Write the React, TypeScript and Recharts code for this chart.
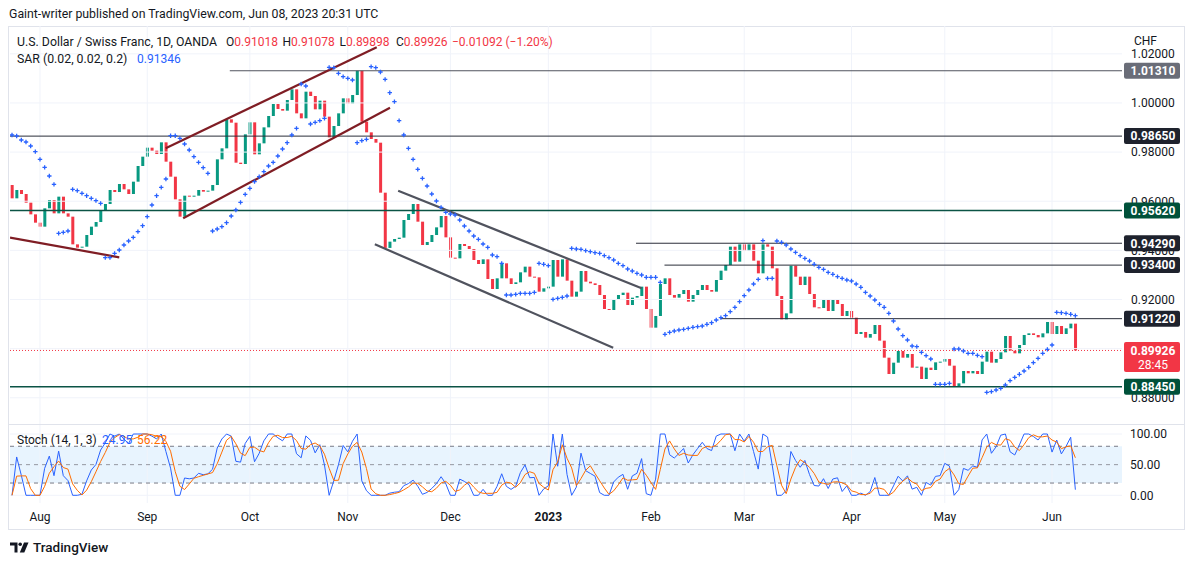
import React from 'react';
import { ComposedChart, Bar, Line, XAxis, YAxis, ReferenceLine, ReferenceArea } from 'recharts';

const FONT = 'Roboto, "Noto Sans", "DejaVu Sans", sans-serif';
const GREEN = '#089981';
const RED = '#f23645';
const BLUE = '#2962ff';
const ORANGE = '#ff6d00';
const TEXT = '#131722';

// Daily bars, 22 Jul 2022 .. 08 Jun 2023 (index = bar position)
const opens = [
  0.96660, 0.96118, 0.96457, 0.96294, 0.95941, 0.95466, 0.95127, 0.94965, 0.95711, 0.96050,
  0.95507, 0.96186, 0.95507, 0.95372, 0.94245, 0.94110, 0.94150, 0.94625, 0.94965, 0.95154,
  0.95643, 0.95887, 0.96457, 0.96375, 0.96701, 0.96484, 0.96294, 0.96796, 0.97434, 0.97814,
  0.98180, 0.98058, 0.97922, 0.98397, 0.97610, 0.96999, 0.96077, 0.95372, 0.96226, 0.96186,
  0.96226, 0.96457, 0.96389, 0.96430, 0.96660, 0.97705, 0.98153, 0.99333, 0.99197, 0.97569,
  0.97515, 0.98723, 0.99211, 0.97909, 0.98356, 0.99007, 0.99469, 0.99957, 0.99754, 0.99686,
  1.00120, 1.00554, 0.99577, 0.99374, 1.00459, 1.00283, 0.99740, 1.00093, 0.99442, 0.98600,
  0.99062, 0.99577, 1.00188, 0.99984, 1.00323, 1.01310, 0.99238, 0.98804, 0.98533, 0.98383,
  0.96348, 0.94100, 0.94354, 0.94463, 0.94517, 0.95236, 0.95480, 0.95887, 0.95168, 0.94218,
  0.94341, 0.94625, 0.94937, 0.95399, 0.94530, 0.93703, 0.93676, 0.94259, 0.94178, 0.94056,
  0.93608, 0.93445, 0.93635, 0.92835, 0.92428, 0.92862, 0.93472, 0.92862, 0.92631, 0.92699,
  0.93106, 0.93337, 0.92930, 0.92902, 0.92319, 0.92455, 0.92523, 0.93608, 0.92930, 0.93635,
  0.92767, 0.92116, 0.92319, 0.93160, 0.92726, 0.92658, 0.92590, 0.92183, 0.91614, 0.91573,
  0.92021, 0.92183, 0.92278, 0.91776, 0.92075, 0.92143, 0.92523, 0.91614, 0.90854, 0.91329,
  0.92631, 0.92862, 0.92183, 0.92075, 0.92224, 0.92387, 0.91912, 0.92183, 0.92387, 0.92590,
  0.92387, 0.92319, 0.92794, 0.93174, 0.93405, 0.94151, 0.93540, 0.94246, 0.93974, 0.94246,
  0.93581, 0.93065, 0.94246, 0.94151, 0.93269, 0.92143, 0.91193, 0.91437, 0.93377, 0.92930,
  0.92590, 0.92930, 0.92224, 0.91682, 0.91654, 0.92021, 0.91532, 0.91980, 0.91817, 0.91329,
  0.91532, 0.91261, 0.90596, 0.90678, 0.90447, 0.90596, 0.90962, 0.90325, 0.89633, 0.88968,
  0.89429, 0.89904, 0.89633, 0.89782, 0.89226, 0.89267, 0.88765, 0.89226, 0.89131, 0.89443,
  0.89470, 0.89579, 0.89307, 0.88453, 0.88588, 0.89090, 0.88995, 0.89090, 0.88968, 0.89470,
  0.89877, 0.89429, 0.89579, 0.89850, 0.90515, 0.89918, 0.89809, 0.90148, 0.90556, 0.90623,
  0.90556, 0.90461, 0.90623, 0.91085, 0.90596, 0.90922, 0.90596, 0.90827, 0.91018,
];

const closes = [
  0.96118, 0.96457, 0.96294, 0.95941, 0.95466, 0.95127, 0.94965, 0.95711, 0.96050, 0.95507,
  0.96186, 0.95507, 0.95372, 0.94245, 0.94110, 0.94150, 0.94625, 0.94965, 0.95154, 0.95643,
  0.95887, 0.96457, 0.96375, 0.96701, 0.96484, 0.96294, 0.96796, 0.97434, 0.97814, 0.98180,
  0.98058, 0.97922, 0.98397, 0.97610, 0.96999, 0.96077, 0.95372, 0.96226, 0.96186, 0.96226,
  0.96457, 0.96389, 0.96430, 0.96660, 0.97705, 0.98153, 0.99333, 0.99197, 0.97569, 0.97515,
  0.98723, 0.99211, 0.97909, 0.98356, 0.99007, 0.99469, 0.99957, 0.99754, 0.99686, 1.00120,
  1.00554, 0.99577, 0.99374, 1.00459, 1.00283, 0.99740, 1.00093, 0.99442, 0.98600, 0.99062,
  0.99577, 1.00188, 0.99984, 1.00323, 1.01310, 0.99238, 0.98804, 0.98533, 0.98383, 0.96348,
  0.94100, 0.94354, 0.94463, 0.94517, 0.95236, 0.95480, 0.95887, 0.95168, 0.94218, 0.94341,
  0.94625, 0.94937, 0.95399, 0.94530, 0.93703, 0.93676, 0.94259, 0.94178, 0.94056, 0.93608,
  0.93445, 0.93635, 0.92835, 0.92428, 0.92862, 0.93472, 0.92862, 0.92631, 0.92699, 0.93106,
  0.93337, 0.92930, 0.92902, 0.92319, 0.92455, 0.92523, 0.93608, 0.92930, 0.93635, 0.92767,
  0.92116, 0.92319, 0.93160, 0.92726, 0.92658, 0.92590, 0.92183, 0.91614, 0.91573, 0.92021,
  0.92183, 0.92278, 0.91776, 0.92075, 0.92143, 0.92523, 0.91614, 0.90854, 0.91329, 0.92631,
  0.92862, 0.92183, 0.92075, 0.92224, 0.92387, 0.91912, 0.92183, 0.92387, 0.92590, 0.92387,
  0.92319, 0.92794, 0.93174, 0.93405, 0.94151, 0.93540, 0.94246, 0.93974, 0.94246, 0.93581,
  0.93065, 0.94246, 0.94151, 0.93269, 0.92143, 0.91193, 0.91437, 0.93377, 0.92930, 0.92590,
  0.92930, 0.92224, 0.91682, 0.91654, 0.92021, 0.91532, 0.91980, 0.91817, 0.91329, 0.91532,
  0.91261, 0.90596, 0.90678, 0.90447, 0.90596, 0.90962, 0.90325, 0.89633, 0.88968, 0.89429,
  0.89904, 0.89633, 0.89782, 0.89226, 0.89267, 0.88765, 0.89226, 0.89131, 0.89443, 0.89470,
  0.89579, 0.89307, 0.88453, 0.88588, 0.89090, 0.88995, 0.89090, 0.88968, 0.89470, 0.89877,
  0.89429, 0.89579, 0.89850, 0.90515, 0.89918, 0.89809, 0.90148, 0.90556, 0.90623, 0.90556,
  0.90461, 0.90623, 0.91085, 0.90596, 0.90922, 0.90596, 0.90827, 0.91018, 0.89926,
];

const sarValues = [
  0.98695, 0.98655, 0.98492, 0.98411, 0.98248, 0.98017, 0.97705, 0.97379, 0.97027, 0.96688,
  0.94693, 0.94734, 0.94788, 0.96484, 0.96430, 0.96321, 0.96226, 0.96118, 0.96023, 0.95914,
  0.93703, 0.93703, 0.93879, 0.94015, 0.94218, 0.94381, 0.94530, 0.94761, 0.95005, 0.95372,
  0.95846, 0.96226, 0.96565, 0.96905, 0.98668, 0.98668, 0.98560, 0.98329, 0.98085, 0.97814,
  0.97583, 0.97366, 0.97135, 0.94788, 0.94870, 0.94965, 0.95127, 0.95399, 0.95643, 0.95955,
  0.96281, 0.96525, 0.96796, 0.96999, 0.97203, 0.97434, 0.97583, 0.97841, 0.98126, 0.98383,
  0.98695, 0.98967, 1.00771, 1.00690, 0.99143, 0.99211, 0.99279, 0.99374, 1.01450, 1.01436,
  1.01205, 1.01070, 1.01002, 1.00934, 0.98383, 0.98465, 0.98519, 1.01477, 1.01436, 1.01260,
  1.00961, 1.00418, 1.00052, 0.99279, 0.98696, 0.98153, 0.97705, 0.97298, 0.96932, 0.96620,
  0.96294, 0.96009, 0.95751, 0.95548, 0.95480, 0.95439, 0.95236, 0.94992, 0.94788, 0.94585,
  0.94449, 0.94259, 0.94123, 0.93811, 0.93744, 0.93472, 0.92183, 0.92183, 0.92210, 0.92251,
  0.92251, 0.92251, 0.92292, 0.93472, 0.93432, 0.93377, 0.92007, 0.92048, 0.92088, 0.92143,
  0.94083, 0.94056, 0.94042, 0.93988, 0.93947, 0.93906, 0.93879, 0.93784, 0.93703, 0.93608,
  0.93472, 0.93377, 0.93242, 0.93160, 0.93065, 0.92997, 0.92903, 0.92903, 0.92903, 0.92699,
  0.90583, 0.90664, 0.90718, 0.90759, 0.90786, 0.90827, 0.90868, 0.90895, 0.90922, 0.90990,
  0.91057, 0.91166, 0.91261, 0.91342, 0.91505, 0.91681, 0.91912, 0.92156, 0.92387, 0.92631,
  0.92821, 0.94395, 0.92862, 0.92862, 0.94381, 0.94327, 0.94219, 0.94056, 0.93920, 0.93784,
  0.93676, 0.93567, 0.93432, 0.93310, 0.93228, 0.93106, 0.93025, 0.92930, 0.92862, 0.92794,
  0.92753, 0.92631, 0.92496, 0.92292, 0.92143, 0.91980, 0.91804, 0.91682, 0.91437, 0.91125,
  0.90800, 0.90528, 0.90352, 0.90108, 0.90081, 0.89850, 0.89714, 0.89579, 0.88548, 0.88548,
  0.88548, 0.88588, 0.89986, 0.89986, 0.89904, 0.89809, 0.89809, 0.89728, 0.89674, 0.88222,
  0.88249, 0.88317, 0.88385, 0.88520, 0.88697, 0.88832, 0.88955, 0.89090, 0.89240, 0.89429,
  0.89606, 0.89809, 0.89972, 0.90148, 0.91478, 0.91464, 0.91437, 0.91397, 0.91346,
];

const monthTicks = [6, 29, 51, 72, 94, 115, 137, 157, 180, 200, 223];
const monthLabels = ['Aug', 'Sep', 'Oct', 'Nov', 'Dec', '2023', 'Feb', 'Mar', 'Apr', 'May', 'Jun'];
const priceTicks = [0.88, 0.9, 0.92, 0.94, 0.96, 0.98, 1.0, 1.02];
const stochTicks = [0, 50, 100];

const levelValues = [1.0131, 0.9865, 0.9562, 0.9429, 0.934, 0.9122, 0.8845];
const levelStarts = [46.7, -0.43, -0.43, 133.8, 139.9, 151.9, -0.43];
const levelLineColors = ['#50535e', '#2a2e39', '#0b5345', '#2a2e39', '#2a2e39', '#2a2e39', '#0b5345'];
const levelTagColors = ['#6a6d78', '#1e222d', '#00513a', '#1e222d', '#1e222d', '#1e222d', '#00513a'];
const lastPrice = 0.89926;

// trend lines: [x1, y1, x2, y2] in (bar index, price)
const brownLines = [
  [-0.43, 0.94516, 23.0, 0.93718],
  [32.95, 0.98154, 78.2, 1.02265],
  [36.7, 0.95305, 81.05, 0.99807],
];
const grayLines = [
  [82.8, 0.96429, 135.0, 0.92456],
  [77.8, 0.94247, 128.9, 0.90038],
];

const X_DOMAIN: [number, number] = [-0.43, 238];
const Y_DOMAIN: [number, number] = [0.86933, 1.03132];
const S_DOMAIN: [number, number] = [-12.56, 114.7];

// Stochastic (14, 1, 3) derived from the candles above
const bodyHigh = closes.map((c, i) => Math.max(c, opens[i]));
const bodyLow = closes.map((c, i) => Math.min(c, opens[i]));
const kValues = closes.map((c, i) => {
  let hh = -Infinity;
  let ll = Infinity;
  for (let j = Math.max(0, i - 13); j <= i; j++) {
    hh = Math.max(hh, bodyHigh[j]);
    ll = Math.min(ll, bodyLow[j]);
  }
  return hh > ll ? ((c - ll) / (hh - ll)) * 100 : 50;
});
const dValues = kValues.map((_, i) => {
  const s = kValues.slice(Math.max(0, i - 2), i + 1);
  return s.reduce((a, b) => a + b, 0) / s.length;
});

const rows = closes.map((c, i) => ({
  i,
  o: opens[i],
  c,
  body: [Math.min(opens[i], c), Math.max(opens[i], c)],
  sar: sarValues[i],
  k: kValues[i],
  d: dValues[i],
}));

const CandleShape = (props: any) => {
  const { x, y, width, height, payload } = props;
  if (x == null || y == null || !payload) return null;
  const cx = x + width / 2;
  const top = height >= 0 ? y : y + height;
  const h = Math.max(1, Math.abs(height));
  const up = payload.c >= payload.o;
  return <rect x={cx - 1.5} y={top} width={3} height={h} fill={up ? GREEN : RED} />;
};

const renderPlus = (p: any) => {
  const { cx, cy, index } = p;
  if (cx == null || cy == null) return <g key={`sar-${index}`} />;
  return (
    <path
      key={`sar-${index}`}
      d={`M${cx - 2.2},${cy}H${cx + 2.2}M${cx},${cy - 2.2}V${cy + 2.2}`}
      stroke={BLUE}
      strokeWidth={1.3}
      fill="none"
    />
  );
};

const AxisText = (props: any) => {
  const { viewBox, text, dx } = props;
  if (!viewBox) return null;
  return (
    <text x={viewBox.x + viewBox.width + (dx ?? 9)} y={viewBox.y} dy={4.3} fontSize={12} fill={TEXT} fontFamily={FONT}>
      {text}
    </text>
  );
};

const TagLabel = (props: any) => {
  const { viewBox, text, bg } = props;
  if (!viewBox) return null;
  const x0 = viewBox.x + viewBox.width + 2;
  return (
    <g>
      <rect x={x0} y={viewBox.y - 8} width={56} height={16} rx={2} fill={bg} />
      <text x={x0 + 29} y={viewBox.y} dy={4.3} textAnchor="middle" fontSize={12} fontWeight={700} fill="#ffffff" fontFamily={FONT}>
        {text}
      </text>
    </g>
  );
};

const LastTag = (props: any) => {
  const { viewBox } = props;
  if (!viewBox) return null;
  const x0 = viewBox.x + viewBox.width + 2;
  return (
    <g>
      <rect x={x0} y={viewBox.y - 8.5} width={56} height={30} rx={2} fill={RED} />
      <text x={x0 + 29} y={viewBox.y} dy={4.3} textAnchor="middle" fontSize={12} fontWeight={700} fill="#ffffff" fontFamily={FONT}>
        {lastPrice.toFixed(5)}
      </text>
      <text x={x0 + 29} y={viewBox.y + 14.7} dy={4.3} textAnchor="middle" fontSize={12} fill="#ffffff" fontFamily={FONT}>
        28:45
      </text>
    </g>
  );
};

const MonthTick = (props: any) => {
  const { x, y, payload } = props;
  const idx = monthTicks.indexOf(payload.value);
  const label = idx >= 0 ? monthLabels[idx] : '';
  return (
    <text x={x} y={y} dy={10} textAnchor="middle" fontSize={12} fill={TEXT} fontFamily={FONT} fontWeight={label === '2023' ? 700 : 400}>
      {label}
    </text>
  );
};

const abs = (extra: React.CSSProperties): React.CSSProperties => ({
  position: 'absolute',
  whiteSpace: 'nowrap',
  fontSize: 12,
  lineHeight: '16px',
  ...extra,
});

function MainChart() {
  return (
    <ComposedChart width={1174} height={398} data={rows} margin={{ top: 0, right: 62, bottom: 0, left: 0 }}>
      <XAxis dataKey="i" type="number" domain={X_DOMAIN} hide allowDataOverflow />
      <YAxis type="number" domain={Y_DOMAIN} hide allowDataOverflow />
      {monthTicks.map((t) => (
        <ReferenceLine key={`vg-${t}`} x={t} stroke="#f0f3fa" strokeWidth={1} />
      ))}
      {priceTicks.map((t) => (
        <ReferenceLine key={`hg-${t}`} y={t} stroke="#f0f3fa" strokeWidth={1} label={<AxisText text={t.toFixed(5)} dx={9} />} />
      ))}
      {levelValues.map((v, n) => (
        <ReferenceLine
          key={`lvl-${v}`}
          segment={[{ x: levelStarts[n], y: v }, { x: X_DOMAIN[1], y: v }]}
          stroke={levelLineColors[n]}
          strokeWidth={n === 2 || n === 6 ? 1.4 : 1}
          ifOverflow="visible"
        />
      ))}
      <ReferenceLine y={lastPrice} stroke={RED} strokeWidth={1} strokeDasharray="1 2" />
      {brownLines.map((l, n) => (
        <ReferenceLine
          key={`br-${n}`}
          segment={[{ x: l[0], y: l[1] }, { x: l[2], y: l[3] }]}
          stroke="#7f1d24"
          strokeWidth={2.2}
          ifOverflow="visible"
        />
      ))}
      {grayLines.map((l, n) => (
        <ReferenceLine
          key={`gr-${n}`}
          segment={[{ x: l[0], y: l[1] }, { x: l[2], y: l[3] }]}
          stroke="#50535e"
          strokeWidth={2.2}
          ifOverflow="visible"
        />
      ))}
      <Bar dataKey="body" barSize={3} isAnimationActive={false} shape={<CandleShape />} legendType="none" />
      <Line
        dataKey="sar"
        stroke="none"
        strokeWidth={0}
        isAnimationActive={false}
        dot={renderPlus}
        activeDot={false}
        legendType="none"
      />
      {levelValues.map((v, n) => (
        <ReferenceLine
          key={`tag-${v}`}
          y={v}
          stroke="none"
          label={<TagLabel text={v.toFixed(5)} bg={levelTagColors[n]} />}
        />
      ))}
      <ReferenceLine y={lastPrice} stroke="none" label={<LastTag />} />
    </ComposedChart>
  );
}

function StochChart() {
  return (
    <ComposedChart width={1174} height={104} data={rows} margin={{ top: 0, right: 62, bottom: 0, left: 0 }}>
      <XAxis
        dataKey="i"
        type="number"
        domain={X_DOMAIN}
        ticks={monthTicks}
        interval={0}
        allowDataOverflow
        axisLine={false}
        tickLine={false}
        height={26}
        tick={<MonthTick />}
      />
      <YAxis type="number" domain={S_DOMAIN} hide allowDataOverflow />
      <ReferenceArea y1={20} y2={80} fill="#2196f3" fillOpacity={0.1} stroke="none" ifOverflow="visible" />
      {monthTicks.map((t) => (
        <ReferenceLine key={`svg-${t}`} x={t} stroke="#f0f3fa" strokeWidth={1} />
      ))}
      {stochTicks.map((t) => (
        <ReferenceLine
          key={`st-${t}`}
          y={t}
          stroke={t === 50 ? '#9598a1' : '#f0f3fa'}
          strokeDasharray={t === 50 ? '4 4' : undefined}
          strokeWidth={1}
          label={<AxisText text={t.toFixed(2)} dx={8} />}
        />
      ))}
      <ReferenceLine y={80} stroke="#787b86" strokeDasharray="4 4" strokeWidth={1} />
      <ReferenceLine y={20} stroke="#787b86" strokeDasharray="4 4" strokeWidth={1} />
      <Line dataKey="k" stroke={BLUE} strokeWidth={1} dot={false} activeDot={false} isAnimationActive={false} legendType="none" />
      <Line dataKey="d" stroke={ORANGE} strokeWidth={1} dot={false} activeDot={false} isAnimationActive={false} legendType="none" />
    </ComposedChart>
  );
}

export default function App() {
  return (
    <div
      style={{
        position: 'absolute',
        left: 0,
        top: 0,
        width: 1194,
        height: 565,
        background: '#ffffff',
        fontFamily: FONT,
        color: TEXT,
        overflow: 'hidden',
      }}
    >
      <div style={{ position: 'absolute', left: 8, top: 26, width: 1177, height: 504, border: '1px solid #e0e3eb', boxSizing: 'border-box' }} />
      <div style={{ position: 'absolute', left: 9, top: 424, width: 1175, height: 1, background: '#e0e3eb' }} />

      <div style={abs({ left: 9, top: 6, fontSize: 12.3 })}>Gaint-writer published on TradingView.com, Jun 08, 2023 20:31 UTC</div>

      <div style={{ position: 'absolute', left: 10, top: 26 }}>
        <MainChart />
      </div>
      <div style={{ position: 'absolute', left: 10, top: 425 }}>
        <StochChart />
      </div>

      <div style={abs({ left: 17, top: 34, fontSize: 12.3 })}>U.S. Dollar / Swiss Franc, 1D, OANDA</div>
      <div style={abs({ left: 226, top: 34 })}>
        O<span style={{ color: RED }}>0.91018</span>
      </div>
      <div style={abs({ left: 282.5, top: 34 })}>
        H<span style={{ color: RED }}>0.91078</span>
      </div>
      <div style={abs({ left: 339.5, top: 34 })}>
        L<span style={{ color: RED }}>0.89898</span>
      </div>
      <div style={abs({ left: 396, top: 34 })}>
        C<span style={{ color: RED }}>0.89926</span>
      </div>
      <div style={abs({ left: 452, top: 34, color: RED })}>−0.01092 (−1.20%)</div>

      <div style={abs({ left: 17, top: 51, fontSize: 12.3 })}>SAR (0.02, 0.02, 0.2)</div>
      <div style={abs({ left: 137, top: 51, color: BLUE })}>0.91346</div>

      <div style={abs({ left: 1134, top: 33 })}>CHF</div>

      <div style={abs({ left: 17, top: 432 })}>Stoch (14, 1, 3)</div>
      <div style={abs({ left: 102, top: 432, color: BLUE })}>24.95</div>
      <div style={abs({ left: 137, top: 432, color: ORANGE })}>56.22</div>

      <svg style={{ position: 'absolute', left: 10, top: 541 }} width={20} height={13} viewBox="0 0 20 13">
        <path d="M0 1.5h7.5v10H4.5V4.5H0z" fill={TEXT} />
        <circle cx={10.2} cy={3.2} r={1.8} fill={TEXT} />
        <path d="M14 1.5h4.5l-4.2 10h-4.5z" fill={TEXT} />
      </svg>
      <div style={abs({ left: 33, top: 539, fontSize: 13.5, fontWeight: 500 })}>TradingView</div>
    </div>
  );
}
